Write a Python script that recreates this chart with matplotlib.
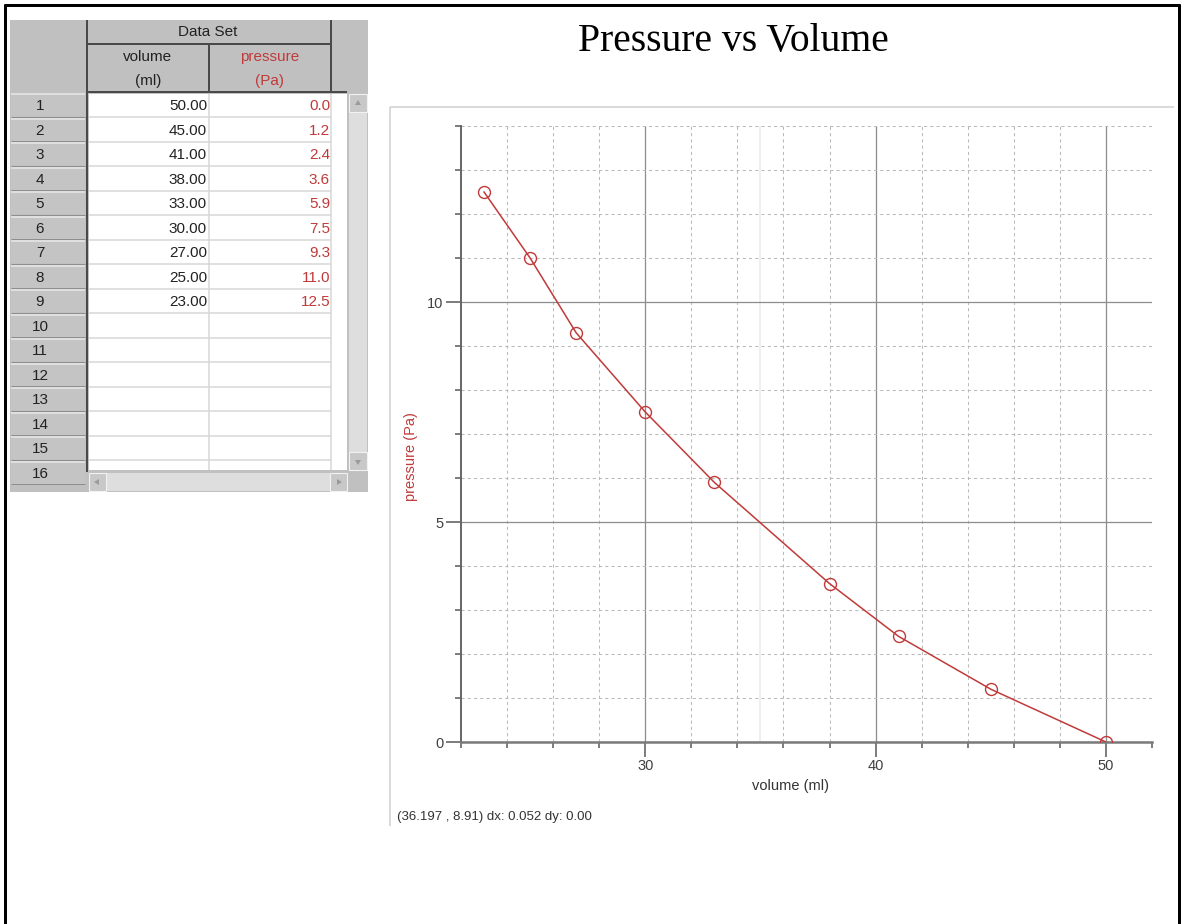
import matplotlib
matplotlib.use("Agg")
import matplotlib.pyplot as plt
from matplotlib.patches import Rectangle, Polygon
from matplotlib.ticker import MultipleLocator

# data set (as in the table, row order kept)
volume = [50.00, 45.00, 41.00, 38.00, 33.00, 30.00, 27.00, 25.00, 23.00]
pressure = [0.0, 1.2, 2.4, 3.6, 5.9, 7.5, 9.3, 11.0, 12.5]
row_numbers = list(range(1, 17))
col_names = ["volume", "pressure"]
col_units = ["(ml)", "(Pa)"]

title = "Pressure vs Volume"
status = "(36.197 , 8.91) dx: 0.052 dy: 0.00"

plt.rcParams["font.family"] = ["Liberation Sans", "DejaVu Sans"]

RED = "#c13a3a"
DARK = "#4a4a4a"
W, H = 1181, 924

fig = plt.figure(figsize=(W / 100, H / 100), dpi=100)

# background axes in pixel coordinates (y down) for the table + frames
bg = fig.add_axes([0, 0, 1, 1])
bg.set_xlim(0, W)
bg.set_ylim(H, 0)
bg.axis("off")


def box(x0, y0, x1, y1, fc, ec="none", lw=0, z=1):
    bg.add_patch(Rectangle((x0, y0), x1 - x0, y1 - y0, facecolor=fc,
                           edgecolor=ec, linewidth=lw, zorder=z))


def line(xs, ys, c, px=1, z=3):
    bg.plot(xs, ys, color=c, lw=px * 0.72, zorder=z, solid_capstyle="butt")


# outer black frame
line([5, 5], [4, H], "black", 3)
line([4, 1180], [5, 5], "black", 3)
line([1179, 1179], [4, H], "black", 3)

# ---- table ----
ROW_TOP, ROW_H = 92.8, 24.5
box(10, 20, 368, 492, "#c0c0c0")

# row headers
for i, n in enumerate(row_numbers):
    y0 = ROW_TOP + i * ROW_H
    box(11, y0 + 1, 85, y0 + ROW_H - 1, "#c4c4c4", z=2)
    line([11, 85], [y0 + 1.5, y0 + 1.5], "#e8e8e8", 1.5)
    line([11, 85], [y0 + ROW_H - 0.5, y0 + ROW_H - 0.5], "#8e8e8e", 1)
    bg.text(40, y0 + ROW_H / 2 + 1, str(n), fontsize=11, ha="center",
            va="center", color="#222222", zorder=5)

# data area
box(89, 94, 347, 470, "white", z=2)
for i in range(15):
    yb = ROW_TOP + (i + 1) * ROW_H
    line([89, 331], [yb, yb], "#d6d6d6", 1.5)
line([209, 209], [94, 470], "#d6d6d6", 1.5)
line([331, 331], [94, 470], "#d6d6d6", 1.5)

for i, (v, p) in enumerate(zip(volume, pressure)):
    yc = ROW_TOP + i * ROW_H + ROW_H / 2 + 1
    bg.text(207, yc, f"{v:.2f}", fontsize=11, ha="right", va="center",
            color="#222222", zorder=5)
    bg.text(330, yc, f"{p:.1f}", fontsize=11, ha="right", va="center",
            color=RED, zorder=5)

# headers
bg.text(208, 32, "Data Set", fontsize=11, ha="center", va="center", color="#222222")
for cx, name, unit, c in [(148, col_names[0], col_units[0], "#222222"),
                          (270, col_names[1], col_units[1], RED)]:
    bg.text(cx, 57, name, fontsize=11, ha="center", va="center", color=c)
    bg.text(cx, 81, unit, fontsize=11, ha="center", va="center", color=c)

line([87, 87], [20, 472], DARK, 2)
line([87, 331], [44, 44], DARK, 2)
line([209, 209], [44, 92], DARK, 2)
line([331, 331], [20, 92], DARK, 2)
line([87, 347], [92, 92], DARK, 2)

# scrollbars
box(349, 94, 367, 470, "#dedede", z=2)
box(89, 473, 347, 491, "#dedede", z=2)
for (x0, y0, x1, y1, tri) in [
        (349, 94, 367, 112, [(358, 100), (355, 105), (361, 105)]),
        (349, 452, 367, 470, [(358, 465), (355, 460), (361, 460)]),
        (89, 473, 106, 491, [(94, 482), (99, 479), (99, 485)]),
        (330, 473, 347, 491, [(342, 482), (337, 479), (337, 485)])]:
    box(x0, y0, x1, y1, "#c8c8c8", ec="#f2f2f2", lw=0.8, z=3)
    bg.add_patch(Polygon(tri, closed=True, facecolor="#9a9a9a", edgecolor="none", zorder=4))

# ---- graph panel ----
line([390, 1174], [107, 107], "#cfcfcf", 1.5)
line([390, 390], [107, 826], "#cfcfcf", 1.5)

bg.text(733, 51, title, fontsize=28.5, family="Liberation Serif",
        ha="center", va="baseline", color="black")
bg.text(397, 817, status, fontsize=9.5, ha="left", va="center", color="#333333")

L, R, T, B = 461, 1152, 126, 742
ax = fig.add_axes([L / W, 1 - B / H, (R - L) / W, (B - T) / H])
ax.patch.set_visible(False)
ax.set_xlim(22, 52)
ax.set_ylim(0, 14)

ax.xaxis.set_major_locator(MultipleLocator(10))
ax.xaxis.set_minor_locator(MultipleLocator(2))
ax.yaxis.set_major_locator(MultipleLocator(5))
ax.yaxis.set_minor_locator(MultipleLocator(1))

ax.grid(which="major", color="#8c8c8c", lw=0.9, ls="-")
ax.grid(which="minor", color="#bababa", lw=0.75, ls=(0, (3, 3)))
ax.axvline(35, color="#ececec", lw=1.2, zorder=0.5)

for s in ["top", "right"]:
    ax.spines[s].set_visible(False)
ax.spines["left"].set_color("#666666")
ax.spines["left"].set_linewidth(1.4)
ax.spines["bottom"].set_color("#7a7a7a")
ax.spines["bottom"].set_linewidth(1.8)

ax.tick_params(which="major", length=11, width=1.2, color="#666666",
               labelsize=10.5, labelcolor="#404040", pad=1.5)
ax.tick_params(which="minor", length=4.5, width=1.2, color="#666666")

ax.plot(volume, pressure, color=RED, lw=1.1, marker="o", mfc="none",
        mec=RED, ms=8.6, mew=1.0, zorder=3)

ax.set_xlabel("volume (ml)", fontsize=10.5, color="#333333")
ax.xaxis.set_label_coords((790 - L) / (R - L), (B - 779) / (B - T))
ax.set_ylabel("pressure (Pa)", fontsize=10.5, color=RED)
ax.yaxis.set_label_coords((418 - L) / (R - L), (B - 457) / (B - T))

fig.savefig("out.png", dpi=100)
